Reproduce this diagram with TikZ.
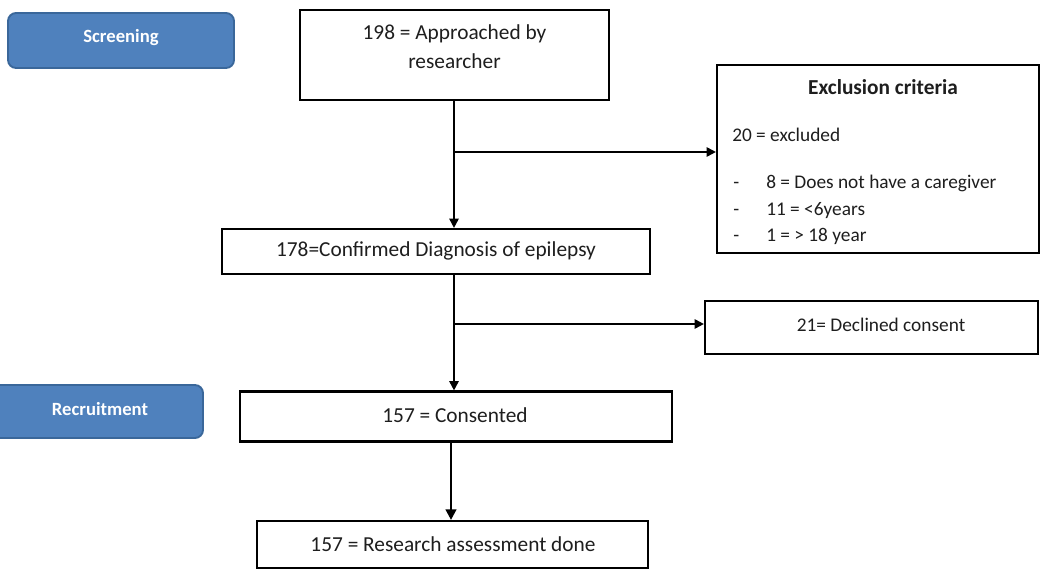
\documentclass[tikz,border=0pt]{standalone}
\usepackage{fontspec}
\setmainfont{Carlito}
\usetikzlibrary{arrows.meta}
\definecolor{stageblue}{HTML}{4F81BD}
\definecolor{stageedge}{HTML}{3A679A}
\definecolor{txt}{HTML}{1E1E1E}
\tikzset{
  flowbox/.style={draw=black, line width=1.6pt, fill=white, inner sep=0pt, text=txt, font=\fontsize{16}{19}\selectfont},
  stagebox/.style={draw=stageedge, line width=1.4pt, fill=stageblue, rounded corners=6pt, inner sep=0pt},
  stagetext/.style={text=white, font=\fontsize{14}{16}\selectfont\bfseries},
  plain/.style={text=txt, font=\fontsize{14.5}{17}\selectfont, inner sep=0pt},
  conn/.style={line width=1.4pt, -{Triangle[length=7pt,width=7pt]}},
  connthick/.style={line width=1.8pt, -{Triangle[length=8pt,width=8pt]}},
}
\begin{document}
\begin{tikzpicture}[x=0.75pt,y=-0.75pt]
\useasboundingbox (0,0) rectangle (1042,570);
\clip (0,0) rectangle (1042,570);
% stage labels
\node[stagebox, minimum width=169.5pt, minimum height=41.25pt] (screen) at (121,40.5) {};
\node[stagetext] (screent) at (121,38) {Screening};
\node[stagebox, minimum width=167.25pt, minimum height=39.75pt] (recruit) at (91.5,411.5) {};
\node[stagetext] (recruitt) at (100,409) {Recruitment};
% boxes
\node[flowbox, minimum width=231.75pt, minimum height=67.5pt] (box1) at (454.5,55) {};
\node[plain, align=center, font=\fontsize{16}{21.75}\selectfont] (box1t) at (454.5,47) {198 = Approached by\\researcher};
\node[flowbox, minimum width=241.5pt, minimum height=141pt] (excl) at (878,159) {};
\node[plain, anchor=base, font=\fontsize{16}{19}\selectfont\bfseries] (exclt) at (883,95) {Exclusion criteria};
\node[plain, anchor=base west] (excla) at (732,142) {20 = excluded};
\node[plain, anchor=base west] (dash1) at (733,189) {-};
\node[plain, anchor=base west] (dash2) at (733,216) {-};
\node[plain, anchor=base west] (dash3) at (733,242) {-};
\node[plain, anchor=base west] (item1) at (766,189) {8 = Does not have a caregiver};
\node[plain, anchor=base west] (item2) at (766,216) {11 = <6years};
\node[plain, anchor=base west] (item3) at (766,242) {1 = > 18 year};
\node[flowbox, minimum width=321pt, minimum height=33.75pt] (box2) at (436,251.5) {};
\node[plain, font=\fontsize{16}{19}\selectfont] (box2t) at (436,251) {178=Confirmed Diagnosis of epilepsy};
\node[flowbox, minimum width=249.75pt, minimum height=39.75pt] (decl) at (871.5,327.5) {};
\node[plain] (declt) at (881,325) {21= Declined consent};
\node[flowbox, minimum width=324pt, minimum height=37.5pt] (box3) at (456,416.5) {};
\node[plain, font=\fontsize{16}{19}\selectfont] (box3t) at (455,415) {157 = Consented};
\node[flowbox, minimum width=293.25pt, minimum height=35.25pt] (box4) at (452.5,544.5) {};
\node[plain, font=\fontsize{16}{19}\selectfont] (box4t) at (453,544) {157 = Research assessment done};
% connectors
\coordinate (b1) at (454,152);
\coordinate (b2) at (454,324);
\draw[conn] (box1.south -| b1) -- (box2.north -| b1);
\draw[conn] (b1) -- (b1 -| excl.west);
\draw[conn] (box2.south -| b2) -- (box3.north -| b2);
\draw[conn] (b2) -- (b2 -| decl.west);
\coordinate (b3) at (451,480);
\draw[connthick] (box3.south -| b3) -- (box4.north -| b3);
\end{tikzpicture}
\end{document}
